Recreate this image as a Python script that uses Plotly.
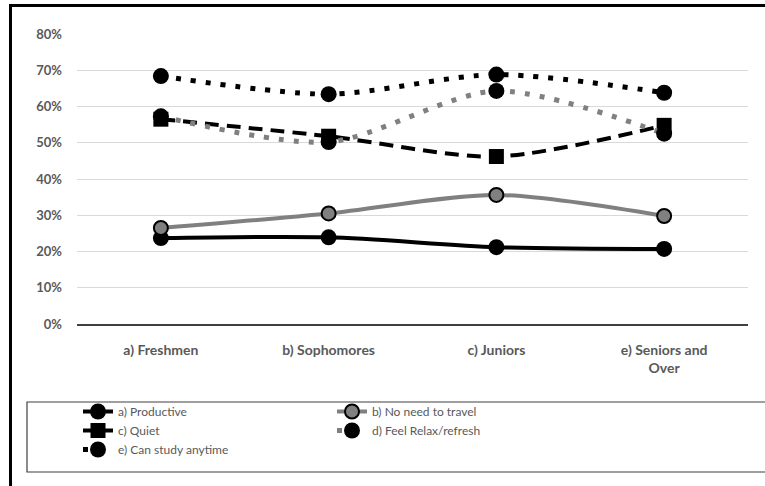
import plotly.graph_objects as go

categories = ["a) Freshmen", "b) Sophomores", "c) Juniors", "e) Seniors and<br>Over"]
productive = [0.237, 0.239, 0.212, 0.207]
no_travel = [0.265, 0.305, 0.356, 0.298]
quiet = [0.565, 0.518, 0.462, 0.548]
relax = [0.573, 0.502, 0.643, 0.525]
anytime = [0.684, 0.634, 0.688, 0.638]
y_ticks = [0, 0.1, 0.2, 0.3, 0.4, 0.5, 0.6, 0.7, 0.8]

FONT = "Lato, 'Open Sans', sans-serif"
GRAY = "#595959"

fig = go.Figure()

fig.add_trace(go.Scatter(x=categories, y=productive, name="a) Productive", mode="lines+markers",
                         line=dict(color="black", width=4, shape="spline", smoothing=0.8),
                         marker=dict(symbol="circle", size=16, color="black"), legend="legend"))
fig.add_trace(go.Scatter(x=categories, y=no_travel, name="b) No need to travel", mode="lines+markers",
                         line=dict(color="#808080", width=4, shape="spline", smoothing=0.8),
                         marker=dict(symbol="circle", size=14, color="#808080", line=dict(color="black", width=2)),
                         legend="legend2"))
fig.add_trace(go.Scatter(x=categories, y=quiet, name="c) Quiet", mode="lines+markers",
                         line=dict(color="black", width=4, dash="14px,8px", shape="spline", smoothing=0.8),
                         marker=dict(symbol="square", size=15, color="black"), legend="legend"))
fig.add_trace(go.Scatter(x=categories, y=relax, name="d) Feel Relax/refresh", mode="lines+markers",
                         line=dict(color="#808080", width=5, dash="5px,10px", shape="spline", smoothing=0.8),
                         marker=dict(symbol="circle", size=16, color="black"), legend="legend2"))
fig.add_trace(go.Scatter(x=categories, y=anytime, name="e) Can study anytime", mode="lines+markers",
                         line=dict(color="black", width=5, dash="5px,10px", shape="spline", smoothing=0.8),
                         marker=dict(symbol="circle", size=16, color="black"), legend="legend"))

L, R, T, B = 77, 17, 34, 162
PW, PH = 765 - L - R, 486 - T - B


def px_x(px):
    return (px - L) / PW


def px_y(py):
    return (486 - B - py) / PH


fig.update_layout(
    width=765, height=486,
    margin=dict(l=L, r=R, t=T, b=B),
    paper_bgcolor="white", plot_bgcolor="white",
    font=dict(family=FONT, color=GRAY, size=13),
    xaxis=dict(showgrid=False, showline=True, linecolor="#404040", linewidth=1.5,
               range=[-0.5, 3.5],
               tickfont=dict(size=14, color=GRAY, family=FONT, weight=700),
               ticklabelstandoff=12),
    yaxis=dict(range=[0, 0.8], tickvals=y_ticks, tickformat=".0%", showgrid=True,
               gridcolor="#d9d9d9", gridwidth=1, zeroline=False,
               tickfont=dict(size=13, color=GRAY, family=FONT, weight=700),
               ticklabelstandoff=14),
    legend=dict(x=px_x(78), y=px_y(397), xanchor="left", yanchor="top", orientation="v",
                font=dict(size=12, color=GRAY, family=FONT), tracegroupgap=0,
                bgcolor="rgba(0,0,0,0)"),
    legend2=dict(x=px_x(332), y=px_y(397), xanchor="left", yanchor="top", orientation="v",
                 font=dict(size=12, color=GRAY, family=FONT), tracegroupgap=0,
                 bgcolor="rgba(0,0,0,0)"),
    shapes=[
        dict(type="path", xref="paper", yref="paper",
             path=f"M {px_x(10.5)},{px_y(490)} L {px_x(10.5)},{px_y(5.5)} L {px_x(767)},{px_y(5.5)}",
             line=dict(color="black", width=3)),
        dict(type="path", xref="paper", yref="paper",
             path=f"M {px_x(767)},{px_y(402)} L {px_x(27)},{px_y(402)} L {px_x(27)},{px_y(472)} L {px_x(767)},{px_y(472)}",
             line=dict(color="#404040", width=1.2)),
    ],
)

fig.write_html("out.html", config={"displayModeBar": False},
               post_script="document.body.style.margin='0';document.body.style.overflow='hidden';")
